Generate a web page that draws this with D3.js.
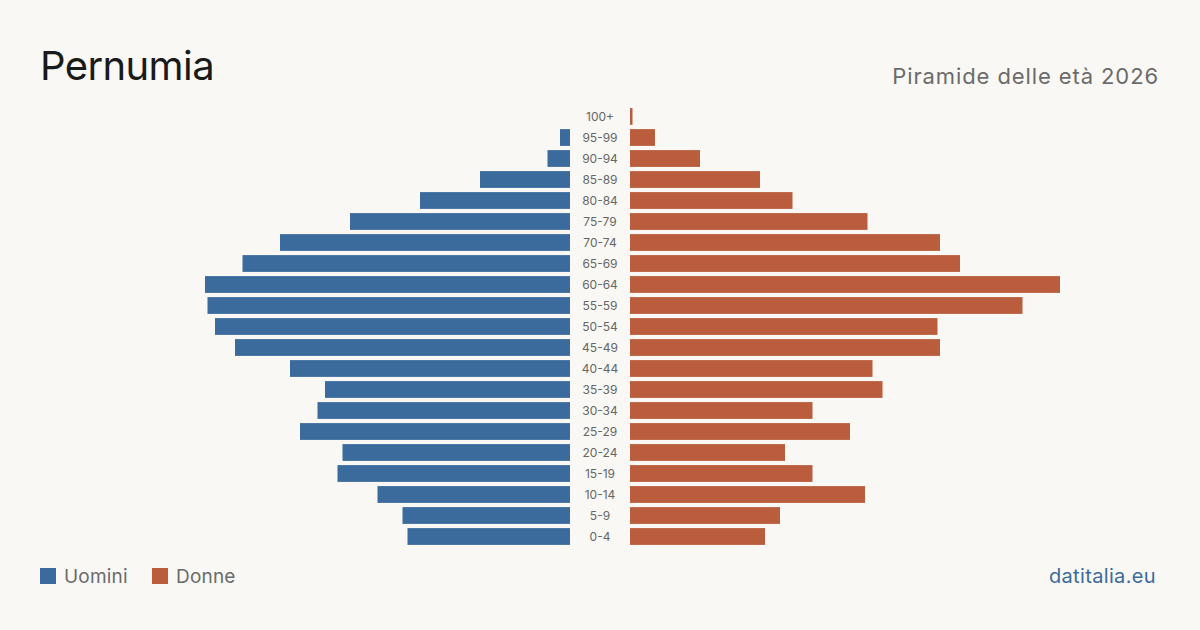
<!DOCTYPE html>
<html><head><meta charset="utf-8">
<script src="https://cdn.jsdelivr.net/npm/d3@7"></script>
<style>html,body{margin:0;padding:0;background:#f9f8f4;}svg{display:block;}</style>
</head><body>
<svg id="chart" width="1200" height="630"></svg>
<script>
const ageGroups = ["100+","95-99","90-94","85-89","80-84","75-79","70-74","65-69","60-64","55-59","50-54","45-49","40-44","35-39","30-34","25-29","20-24","15-19","10-14","5-9","0-4"];
const men   = [0, 4, 9, 36, 60, 88, 116, 131, 146, 145, 142, 134, 112, 98, 101, 108, 91, 93, 77, 67, 65];
const women = [1, 10, 28, 52, 65, 95, 124, 132, 172, 157, 123, 124, 97, 101, 73, 88, 62, 73, 94, 60, 54];
const title = "Pernumia";
const subtitle = "Piramide delle età 2026";
const legendLabels = ["Uomini", "Donne"];
const source = "datitalia.eu";

const blue = "#3b6b9c", orange = "#b95d3c";
const font = "Inter, 'Noto Sans', sans-serif";
const svg = d3.select("#chart");
svg.append("rect").attr("width",1200).attr("height",630).attr("fill","#f9f8f4");

const maxV = d3.max(men.concat(women));
const leftEdge = 570, rightEdge = 630, halfW = 430;
const x = d3.scaleLinear().domain([0, maxV]).range([0, halfW]);
const y = d3.scaleBand().domain(ageGroups).range([106, 547]).paddingInner(0.2).paddingOuter(0.1);

const rows = ageGroups.map((a,i)=>({age:a, m:men[i], w:women[i]}));

svg.append("g").selectAll("rect").data(rows).join("rect")
  .attr("x", d=>leftEdge - x(d.m)).attr("y", d=>y(d.age))
  .attr("width", d=>x(d.m)).attr("height", y.bandwidth()).attr("fill", blue);
svg.append("g").selectAll("rect").data(rows).join("rect")
  .attr("x", rightEdge).attr("y", d=>y(d.age))
  .attr("width", d=>x(d.w)).attr("height", y.bandwidth()).attr("fill", orange);
svg.append("g").selectAll("text").data(rows).join("text")
  .attr("x", 600).attr("y", d=>y(d.age)+y.bandwidth()/2)
  .attr("dy","0.35em").attr("text-anchor","middle")
  .attr("font-family", font).attr("font-size", 12).attr("fill","#666")
  .text(d=>d.age);

svg.append("text").attr("x",40).attr("y",80).attr("font-family",font)
  .attr("font-size",40).attr("letter-spacing",-0.6).attr("fill","#1a1a1a").text(title);
svg.append("text").attr("x",1159).attr("y",84).attr("text-anchor","end").attr("font-family",font)
  .attr("font-size",22).attr("letter-spacing",0.9).attr("fill","#6b6b6b").text(subtitle);

const leg = svg.append("g");
const legX = [40, 152];
[blue, orange].forEach((c,i)=>{
  leg.append("rect").attr("x",legX[i]).attr("y",568).attr("width",16).attr("height",16).attr("fill",c);
  leg.append("text").attr("x",legX[i]+24).attr("y",583).attr("font-family",font)
    .attr("font-size",19).attr("letter-spacing",0.2).attr("fill","#6b6b6b").text(legendLabels[i]);
});
svg.append("text").attr("x",1156).attr("y",583).attr("text-anchor","end").attr("font-family",font)
  .attr("font-size",20).attr("letter-spacing",0.35).attr("fill",blue).text(source);
</script>
</body></html>
